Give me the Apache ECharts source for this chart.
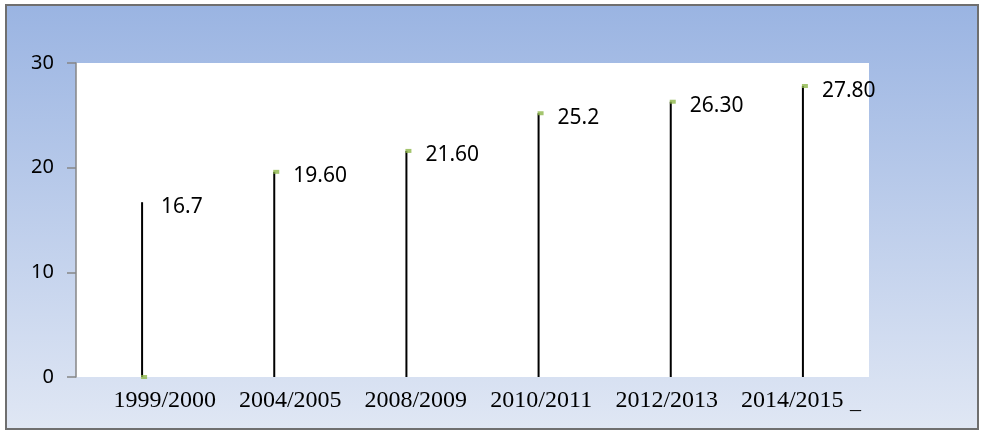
<!DOCTYPE html>
<html>
<head>
<meta charset="utf-8">
<script src="https://cdn.jsdelivr.net/npm/echarts@6/dist/echarts.min.js"></script>
<style>
  html, body { margin: 0; padding: 0; background: #fff; }
  #main { width: 984px; height: 432px; }
</style>
</head>
<body>
<div id="main"></div>
<script>
// 数据
var categories = ['1999/2000', '2004/2005', '2008/2009', '2010/2011', '2012/2013', '2014/2015'];
var values = [16.7, 19.6, 21.6, 25.2, 26.3, 27.8];
var valueLabels = ['16.7', '19.60', '21.60', '25.2', '26.30', '27.80'];
// 绿色小标记（第一个在 0 处）
var markerValues = [0, 19.6, 21.6, 25.2, 26.3, 27.8];
var yTicks = [0, 10, 20, 30];

var chart = echarts.init(document.getElementById('main'));

var option = {
  animation: false,
  graphic: [
    {
      type: 'rect',
      z: -10,
      shape: { x: 6, y: 5, width: 972, height: 424 },
      style: {
        fill: new echarts.graphic.LinearGradient(0, 0, 0, 1, [
          { offset: 0, color: '#9ab4e2' },
          { offset: 1, color: '#e0e7f4' }
        ]),
        stroke: '#6f6f6f',
        lineWidth: 2
      }
    },
    {
      type: 'text',
      left: 850,
      top: 391,
      style: { text: '_', font: '22px "Liberation Serif"', fill: '#000' }
    }
  ],
  grid: [
    {
      left: 76,
      right: 115,
      top: 63,
      bottom: 55,
      show: true,
      backgroundColor: '#fff',
      borderWidth: 0
    },
    // 横轴文字的位置与竖线不完全对齐，单独一个网格
    {
      left: 102,
      right: 129,
      top: 63,
      bottom: 55,
      show: false
    }
  ],
  xAxis: [
    {
      type: 'category',
      gridIndex: 0,
      data: categories,
      boundaryGap: true,
      axisLine: { show: false },
      axisTick: { show: false },
      axisLabel: { show: false }
    },
    {
      type: 'category',
      gridIndex: 1,
      data: categories,
      boundaryGap: true,
      axisLine: { show: false },
      axisTick: { show: false },
      axisLabel: {
        interval: 0,
        hideOverlap: false,
        color: '#000',
        fontFamily: 'Liberation Serif',
        fontSize: 24,
        margin: 12
      }
    }
  ],
  yAxis: [
    {
      type: 'value',
      gridIndex: 0,
      min: yTicks[0],
      max: yTicks[yTicks.length - 1],
      interval: 10,
      splitLine: { show: false },
      axisLine: { show: true, lineStyle: { color: '#868686', width: 1.5 } },
      axisTick: { show: true, length: 9, lineStyle: { color: '#868686', width: 1.5 } },
      axisLabel: {
        color: '#000',
        fontFamily: 'Noto Sans',
        fontSize: 20,
        margin: 22
      }
    },
    {
      type: 'value',
      gridIndex: 1,
      min: 0,
      max: 30,
      show: false
    }
  ],
  series: [
    {
      type: 'bar',
      data: values,
      barWidth: 2,
      itemStyle: { color: '#000' },
      label: {
        show: true,
        position: [20, -6],
        color: '#000',
        fontFamily: 'Noto Sans',
        fontSize: 21,
        formatter: function (p) { return valueLabels[p.dataIndex]; }
      },
      z: 2
    },
    {
      type: 'scatter',
      data: markerValues,
      symbol: 'rect',
      symbolSize: [6, 4],
      symbolOffset: [2, 0],
      itemStyle: { color: '#8db64a' },
      z: 3
    }
  ]
};

chart.setOption(option);
</script>
</body>
</html>
